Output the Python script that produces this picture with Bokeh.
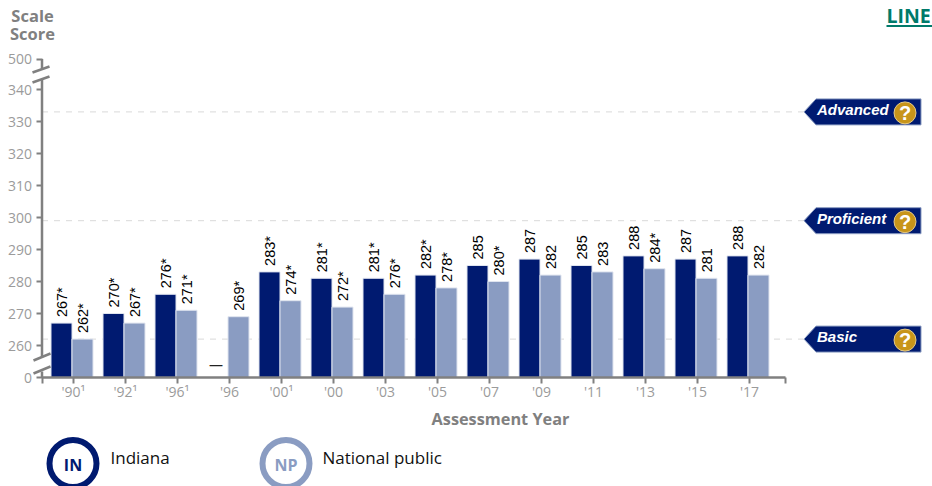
import math
from bokeh.embed import file_html
from bokeh.resources import INLINE
from bokeh.plotting import figure
from bokeh.models import LinearAxis, FixedTicker, Range1d
from bokeh.core.properties import value

# Assessment data
years = ["'90¹", "'92¹", "'96¹", "'96", "'00¹", "'00", "'03", "'05", "'07", "'09", "'11", "'13", "'15", "'17"]
indiana = [267, 270, 276, None, 283, 281, 281, 282, 285, 287, 285, 288, 287, 288]
national = [262, 267, 271, 269, 274, 272, 276, 278, 280, 282, 283, 284, 281, 282]
indiana_labels = ["267*", "270*", "276*", "—", "283*", "281*", "281*", "282*", "285", "287", "285", "288", "287", "288"]
national_labels = ["262*", "267*", "271*", "269*", "274*", "272*", "276*", "278*", "280*", "282", "283", "284*", "281", "282"]
levels = ["Advanced", "Proficient", "Basic"]
level_scores = [333, 299, 262]
y_ticks = [260, 270, 280, 290, 300, 310, 320, 330, 340]

NAVY = "#001a70"
SLATE = "#8a9cc2"
GREY = "#808080"
TICK_GREY = "#9b9b9b"
FONT = "Open Sans"
VALUE_FONT = "Liberation Sans"

# The vertical scale is broken at both ends: the stubs for 0 and 500 sit
# at fixed stand-in scores just outside the 260-340 span.
FLOOR = 250.0
CEILING = 349.5
PX_PER_SCORE = 3.2
PX_PER_YEAR = 52.0
ZERO_X = 71.5
ZERO_Y = 345.0


def xs(px):
    return (px - ZERO_X) / PX_PER_YEAR


def ys(px):
    return 260 + (ZERO_Y - px) / PX_PER_SCORE


def level_px(score):
    return ZERO_Y - (score - 260) * PX_PER_SCORE


p = figure(
    width=932, height=486, output_backend="svg", toolbar_location=None,
    x_range=Range1d(xs(0), xs(932)), y_range=Range1d(ys(486), ys(0)),
    x_axis_location=None, y_axis_location=None, min_border=0,
    outline_line_color=None, background_fill_color="white", border_fill_color="white",
)
p.grid.visible = False

# Achievement level reference lines
for score in level_scores:
    p.line([xs(41.5), xs(803)], [score, score], line_color="#d9d9d9", line_width=1, line_dash="6 6")

# Bars
half = 10.5 / PX_PER_YEAR
idx = list(range(len(years)))
in_idx = [i for i in idx if indiana[i] is not None]
p.vbar(x=[i - half for i in in_idx], top=[indiana[i] for i in in_idx], bottom=FLOOR,
       width=2 * half, fill_color=NAVY, line_color="#dfe4ef", line_width=1)
p.vbar(x=[i + half for i in idx], top=national, bottom=FLOOR,
       width=2 * half, fill_color=SLATE, line_color="#dfe4ef", line_width=1)

# Rotated value labels
p.text(x=[i - half for i in in_idx], y=[indiana[i] for i in in_idx],
       text=[indiana_labels[i] for i in in_idx], angle=math.pi / 2,
       text_align="left", text_baseline="middle", y_offset=-6,
       text_font=value(VALUE_FONT), text_font_size="14.5px", text_color="black")
p.text(x=[i + half for i in idx], y=national, text=national_labels, angle=math.pi / 2,
       text_align="left", text_baseline="middle", y_offset=-6,
       text_font=value(VALUE_FONT), text_font_size="14.5px", text_color="black")

# Not-available marker
p.text(x=[3 - half - 1.5 / PX_PER_YEAR], y=[FLOOR], text=[indiana_labels[3]],
       text_align="center", text_baseline="middle", y_offset=-13,
       text_font=value(FONT), text_font_size="14px", text_color="#222222")

# Axes
tick_nudge = 1.5 / PX_PER_YEAR
xaxis = LinearAxis(
    fixed_location=FLOOR,
    ticker=FixedTicker(ticks=[i + tick_nudge for i in idx], minor_ticks=[xs(41.5), xs(785)]),
    major_label_overrides={i + tick_nudge: years[i] for i in idx},
    major_label_text_font=FONT, major_label_text_font_size="14px",
    major_label_text_color=TICK_GREY, major_label_standoff=-2,
    major_tick_in=0, major_tick_out=6, minor_tick_in=0, minor_tick_out=6,
    major_tick_line_color=GREY, minor_tick_line_color=GREY,
    major_tick_line_width=2, minor_tick_line_width=2,
    axis_line_color=None,
)
p.add_layout(xaxis, "below")

yaxis = LinearAxis(
    fixed_location=xs(41.5),
    ticker=FixedTicker(ticks=[FLOOR] + y_ticks + [CEILING]),
    major_label_overrides={FLOOR: "0", CEILING: "500"},
    major_label_text_font=FONT, major_label_text_font_size="14px",
    major_label_text_color=TICK_GREY, major_label_standoff=4,
    major_tick_in=0, major_tick_out=6,
    major_tick_line_color=GREY, major_tick_line_width=2,
    minor_tick_line_color=None, axis_line_color=None,
)
p.add_layout(yaxis, "left")

# Axis lines with their break marks
p.line([xs(41.5), xs(785)], [FLOOR, FLOOR], line_color=GREY, line_width=2.5)
p.line([xs(41.5), xs(41.5)], [FLOOR, ys(371)], line_color=GREY, line_width=2.5)
p.line([xs(41.5), xs(41.5)], [ys(357), ys(79)], line_color=GREY, line_width=2.5)
p.line([xs(41.5), xs(41.5)], [ys(69), CEILING], line_color=GREY, line_width=2.5)
for x0, y0, x1, y1 in [(33, 373, 50, 366), (33, 360, 50, 353), (32, 82, 49, 76), (32, 72, 49, 66)]:
    p.line([xs(x0), xs(x1)], [ys(y0), ys(y1)], line_color=GREY, line_width=2.5)

# Axis titles
p.text(x=[xs(32)], y=[ys(15)], text=["Scale"], text_align="center", text_baseline="middle",
       text_font=value(FONT), text_font_size="16.5px", text_font_style="bold", text_color=GREY)
p.text(x=[xs(32)], y=[ys(33)], text=["Score"], text_align="center", text_baseline="middle",
       text_font=value(FONT), text_font_size="16.5px", text_font_style="bold", text_color=GREY)
p.text(x=[xs(500)], y=[ys(418)], text=["Assessment Year"], text_align="center", text_baseline="middle",
       text_font=value(FONT), text_font_size="16.3px", text_font_style="bold", text_color=GREY)

# Switch-view link
p.text(x=[xs(886)], y=[ys(15)], text=["LINE"], text_align="left", text_baseline="middle",
       text_font=value(FONT), text_font_size="19.5px", text_font_style="bold", text_color="#007a6a")
p.line([xs(886), xs(932)], [ys(25.5), ys(25.5)], line_color="#007a6a", line_width=2)

# Achievement level tags
for name, score in zip(levels, level_scores):
    c = level_px(score)
    p.patch([xs(803.5), xs(815.5), xs(920.5), xs(920.5), xs(815.5)],
            [ys(c), ys(c - 13), ys(c - 13), ys(c + 13), ys(c + 13)],
            fill_color=NAVY, line_color="#8a9cc2", line_width=1)
    p.text(x=[xs(816.5)], y=[ys(c - 2.5)], text=[name], text_align="left", text_baseline="middle",
           text_font=value("Liberation Sans"), text_font_size="15px",
           text_font_style="bold italic", text_color="white")
    p.scatter([xs(904.5)], [ys(c + 1)], size=22, marker="circle",
              fill_color="#c8951a", line_color="#e3c98a", line_width=1)
    p.text(x=[xs(904.5)], y=[ys(c + 1)], text=["?"], text_align="center", text_baseline="middle",
           text_font=value("Liberation Sans"), text_font_size="20px",
           text_font_style="bold", text_color="white")

# Legend
for cx, abbr, name, colour, tx in [(72.5, "IN", "Indiana", NAVY, 110), (285.5, "NP", "National public", SLATE, 322)]:
    p.scatter([xs(cx)], [ys(463)], size=47, marker="circle", fill_color="white",
              line_color=colour, line_width=6)
    p.text(x=[xs(cx)], y=[ys(464)], text=[abbr], text_align="center", text_baseline="middle",
           text_font=value(FONT), text_font_size="16px", text_font_style="bold", text_color=colour)
    p.text(x=[xs(tx)], y=[ys(456.5)], text=[name], text_align="left", text_baseline="middle",
           text_font=value(FONT), text_font_size="17px", text_color="#111111")

open("out.html", "w").write(file_html(p, INLINE))
